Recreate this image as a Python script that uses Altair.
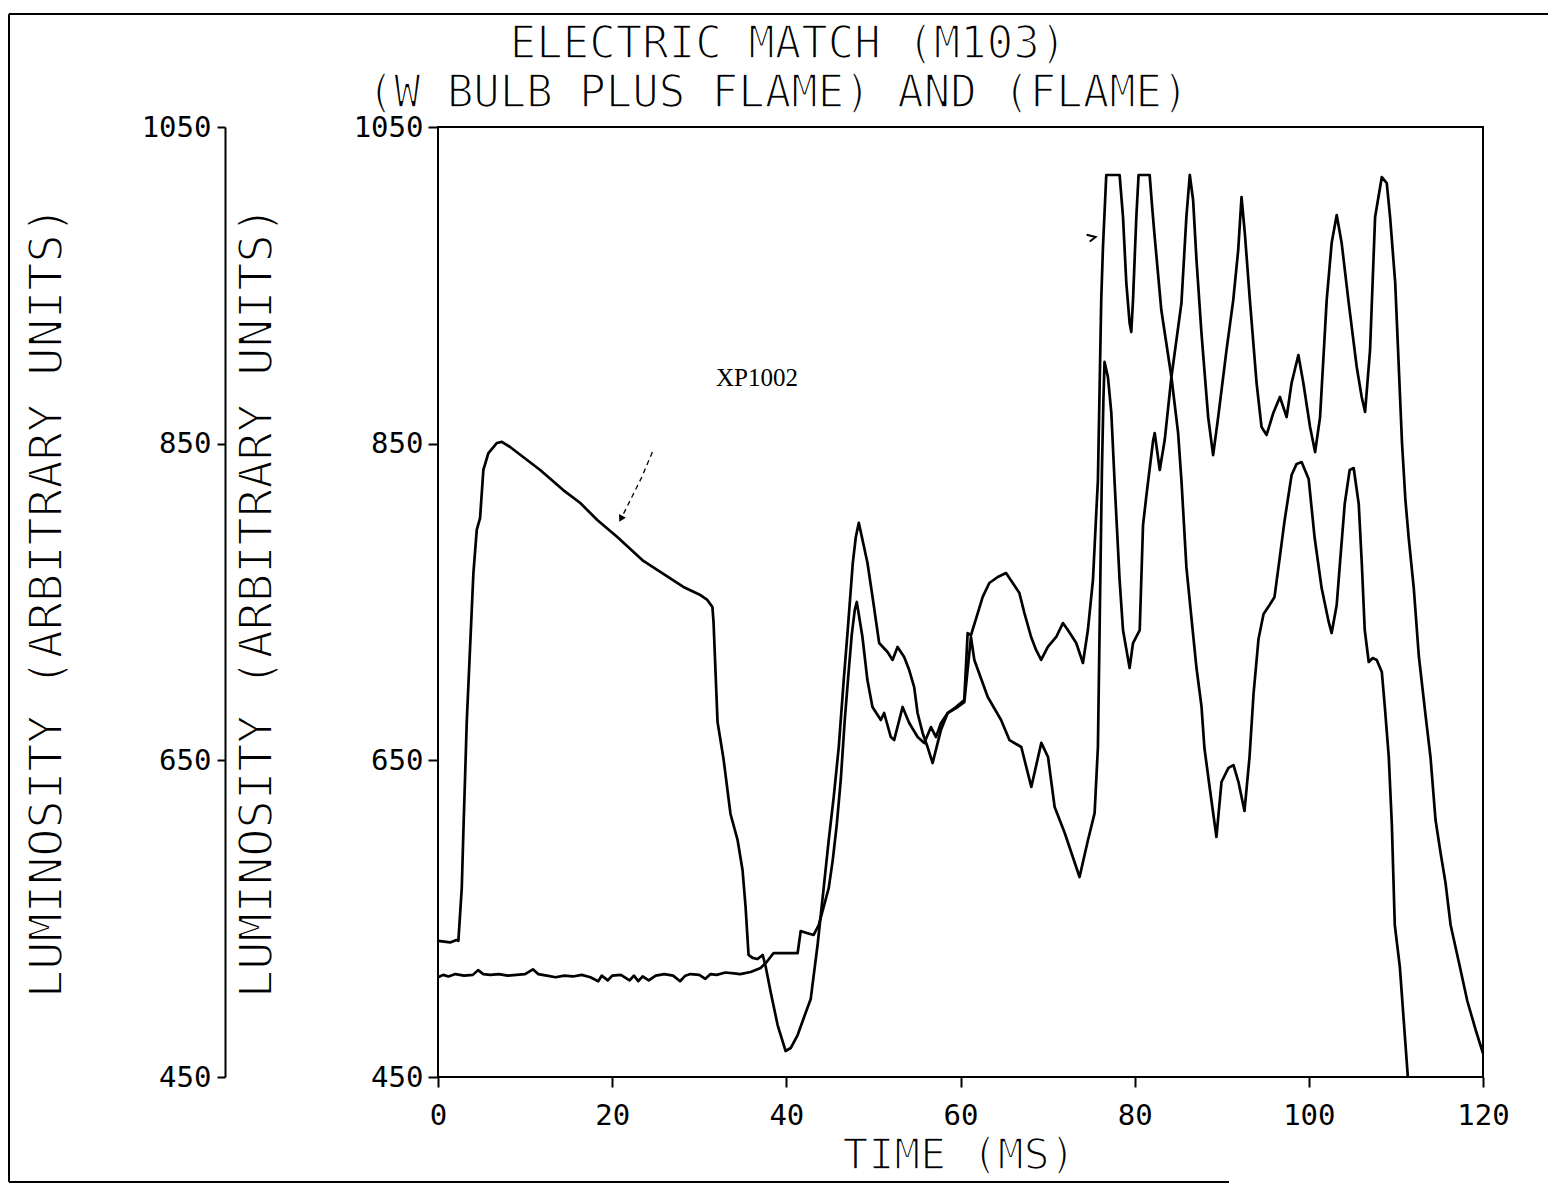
import altair as alt
import pandas as pd

# ---- data: (time ms, luminosity) ----
bulb_points = [
    (0, 536), (1.4, 535), (2.1, 536.5), (2.34, 536), (2.73, 569.4), (2.91, 604.1), (3.11, 639.5),
    (3.3, 674.2), (3.68, 720.9), (4.06, 767.7), (4.45, 795.5), (4.83, 803), (5.21, 833.4),
    (5.79, 844.1), (6.75, 850.4), (7.33, 851.1), (8.28, 847.9), (9.78, 841.6), (11.73, 833.4),
    (14.38, 820.7), (16.34, 812.5), (18.29, 801.8), (20.59, 791.1), (23.58, 775.9), (25.88, 767.7),
    (28.18, 759.5), (30.13, 754.4), (30.93, 751.3), (31.51, 746.8), (31.64, 737.4), (32.1, 674.2),
    (32.79, 650.8), (33.59, 616.1), (34.4, 599.7), (34.97, 580.7), (35.32, 557.4), (35.66, 527.1),
    (36.12, 525.2), (36.7, 524.5), (37.28, 527.1), (37.62, 520), (38.2, 503.7), (39.0, 482.8),
    (39.92, 466.4), (40.5, 468.3), (41.3, 476.5), (42.0, 487.3), (42.8, 499.3), (43.6, 534),
    (44.29, 569.4), (44.87, 599.7), (45.44, 626.8), (46.02, 658.4), (46.59, 700.7), (47.05, 732.3),
    (47.63, 774.6), (47.98, 791.1), (48.32, 800), (49.32, 774.6), (49.9, 753.2), (50.66, 724.1),
    (51.62, 718.4), (52.2, 713.4), (52.77, 721.6), (53.53, 715.3), (54.11, 707), (54.68, 696.3),
    (55.07, 679.9), (55.65, 667.3), (56.22, 658.4), (56.8, 648.3), (57.37, 660.9), (57.75, 669.1),
    (58.53, 679.9), (59.48, 683.7), (60.43, 688.1), (60.82, 730.4), (61.2, 729), (61.98, 743),
    (62.55, 753.2), (63.31, 762), (64.28, 765.8), (65.23, 768.3), (66.0, 762), (66.76, 755.7),
    (67.34, 743), (68.11, 727.9), (68.68, 719.7), (69.26, 713.4), (70.03, 721.6), (70.99, 727.9),
    (71.76, 736.7), (72.33, 732.3), (73.29, 724.1), (74.06, 711.5), (74.63, 732.3), (75.21, 763.9),
    (75.59, 806.2), (75.78, 827), (76.16, 940.7), (76.36, 974.2), (76.74, 1019.7), (78.27, 1019.7),
    (78.66, 993.2), (79.04, 951.5), (79.42, 926.2), (79.61, 920.5), (79.81, 940.7), (80.19, 993.2),
    (80.45, 1019.7), (81.72, 1019.7), (82.0, 1000), (82.26, 983), (83.06, 934.4), (84.22, 892.1),
    (84.99, 856.7), (85.37, 827), (85.94, 772), (86.52, 739.9), (87.1, 708.3), (87.67, 684.3),
    (88.01, 657.8), (88.59, 633.8), (89.39, 601.6), (89.97, 636.3), (90.77, 645.2), (91.35, 647),
    (91.92, 636.3), (92.61, 618), (93.19, 652.1), (93.65, 691.9), (94.22, 726.6), (94.8, 742.4),
    (95.49, 748.1), (96.06, 753.2), (96.64, 777.2), (97.21, 801.2), (98.02, 830.2), (98.6, 837.2),
    (99.17, 838.4), (99.98, 827.7), (100.67, 790.4), (101.47, 758.8), (102.28, 737.4), (102.62, 730.4),
    (103.2, 748.1), (103.54, 772), (104.12, 811.9), (104.69, 833.4), (105.15, 834.6), (105.73, 811.9),
    (106.08, 774.6), (106.42, 732.3), (106.88, 712.1), (107.34, 714.6), (107.8, 713.4), (108.38, 705.8),
    (108.72, 684.3), (109.18, 652.1), (109.53, 609.8), (109.87, 546), (110.45, 519.5), (111.37, 450),
]

flame_points = [
    (0, 513), (0.6, 514.5), (1.2, 513.5), (2.0, 515), (3.0, 514), (4.0, 514.5), (4.6, 517.5),
    (5.2, 515), (6.0, 514.5), (7.0, 515), (8.0, 514), (9.0, 514.5), (10.0, 515), (10.9, 518),
    (11.5, 515), (12.5, 514), (13.5, 513), (14.5, 514), (15.5, 513.5), (16.5, 514.5), (17.5, 513),
    (18.4, 510.5), (18.8, 514), (19.5, 511), (20.0, 514), (21.0, 514.5), (22.0, 511), (22.5, 514),
    (23.0, 510.5), (23.5, 513.5), (24.2, 511), (25.0, 514), (26.0, 515), (27.0, 514), (27.8, 510.5),
    (28.4, 514), (29.0, 515), (30.0, 514.5), (30.7, 512), (31.3, 515), (32.0, 514.5), (33.0, 516),
    (34.0, 515.5), (34.7, 515), (35.9, 516.3), (37.05, 518.8), (37.74, 522.6), (38.54, 528.3),
    (39.92, 528.3), (41.3, 528.3), (41.65, 542.2), (42.34, 541), (43.14, 539.7), (43.72, 546),
    (44.29, 557.4), (44.87, 569.4), (45.33, 587), (45.79, 609.2), (46.25, 637.6), (46.71, 675.5),
    (47.17, 707), (47.51, 729.2), (47.86, 745), (48.09, 750), (48.74, 727.9), (49.31, 700.7),
    (49.89, 683.7), (50.85, 675.5), (51.23, 679.9), (52.0, 664.7), (52.38, 662.8), (53.35, 683.7),
    (54.11, 673.6), (55.08, 664.7), (55.84, 660.9), (56.61, 671), (57.19, 664.7), (57.76, 673.6),
    (58.53, 679.9), (59.68, 683.7), (60.44, 686.8), (61.2, 727.9), (61.59, 713.4), (63.13, 690),
    (64.66, 675.5), (65.62, 662.8), (66.98, 658.4), (68.13, 633.2), (69.28, 661), (70.05, 652.1),
    (70.81, 620.5), (71.97, 604.1), (73.67, 576.3), (74.64, 599.7), (75.4, 616.7), (75.78, 658.4),
    (76.02, 751), (76.24, 833.4), (76.41, 877.6), (76.54, 901.6), (76.93, 892.1), (77.32, 869.4),
    (77.7, 825.2), (78.27, 763.9), (78.66, 732.3), (79.42, 708.3), (79.81, 724.1), (80.58, 732.3),
    (80.96, 798.6), (81.34, 816.9), (82.11, 851.7), (82.3, 856.7), (82.88, 833.4), (83.45, 852.3),
    (84.22, 892.1), (85.37, 938.8), (85.94, 993.2), (86.33, 1019.7), (86.71, 1003.9), (87.1, 966),
    (87.67, 919.9), (88.44, 866.8), (89.01, 842.8), (89.59, 866.8), (90.55, 909.2), (91.32, 940.7),
    (91.89, 972.3), (92.27, 1005.8), (92.65, 983), (93.23, 940.7), (94.0, 888.3), (94.57, 860.5),
    (95.15, 855.5), (95.92, 869.4), (96.68, 879.5), (97.45, 866.8), (98.02, 888.3), (98.8, 906),
    (99.37, 888.3), (100.14, 860.5), (100.72, 844.7), (101.29, 866.8), (102.05, 940.7), (102.62, 976.7),
    (103.2, 994.4), (103.77, 976.7), (104.54, 940.7), (105.5, 898.4), (106.07, 879.5), (106.46, 870),
    (107.03, 909.2), (107.61, 993.2), (108.38, 1018.4), (108.95, 1014.6), (109.33, 993.2),
    (109.92, 951.5), (110.7, 850.4), (111.09, 814.4), (111.47, 790.4), (112.05, 758.8),
    (112.63, 715.9), (113.4, 678.6), (113.97, 652.1), (114.55, 612.3), (115.13, 591.5),
    (115.7, 572.5), (116.28, 546), (117.25, 522), (118.2, 498), (119.16, 479.7), (120, 465),
]

arrow_points = [(24.62, 844.7), (23.35, 828.3), (22.09, 814.4), (21.17, 804.3)]
arrow_tip = (21.0, 802.5)
marker_pt = (75.0, 980.5)

x_ticks = [0, 20, 40, 60, 80, 100, 120]
y_ticks = [450, 650, 850, 1050]

title_lines = ["ELECTRIC MATCH (M103)", "(W BULB PLUS FLAME) AND (FLAME)"]
x_title = "TIME (MS)"
y_title = "LUMINOSITY (ARBITRARY UNITS)"
note_text = "XP1002"

# ---- build tables ----
rows = []
for name, pts in (("bulb", bulb_points), ("flame", flame_points)):
    for i, (t, v) in enumerate(pts):
        rows.append({"series": name, "t": t, "v": v, "i": i})
df = pd.DataFrame(rows)
arrow_df = pd.DataFrame([{"t": t, "v": v, "i": i} for i, (t, v) in enumerate(arrow_points)])
tip_df = pd.DataFrame([{"t": arrow_tip[0], "v": arrow_tip[1]}])
mark_df = pd.DataFrame([{"t": marker_pt[0], "v": marker_pt[1]}])
dummy = pd.DataFrame({"a": [0]})

W, H = 1045, 950
MONO = "DejaVu Sans Mono"

xscale = alt.Scale(domain=[0, 120], nice=False, zero=False)
yscale = alt.Scale(domain=[450, 1050], nice=False, zero=False)

axis_common = dict(labelFont=MONO, labelFontSize=29, labelColor="black", format="d",
                   tickColor="black", tickWidth=2, grid=False, labelFlush=False, title=None)

lines = alt.Chart(df).mark_line(color="black", strokeWidth=2.7, strokeJoin="round").encode(
    x=alt.X("t:Q", scale=xscale,
            axis=alt.Axis(values=x_ticks, orient="bottom", domain=False, tickSize=10,
                          labelPadding=14, **axis_common)),
    y=alt.Y("v:Q", scale=yscale,
            axis=alt.Axis(values=y_ticks, orient="left", domain=False, tickSize=10,
                          labelPadding=5, **axis_common)),
    detail="series:N",
    order="i:Q",
)

axis2 = alt.Chart(pd.DataFrame({"v": y_ticks})).mark_point(opacity=0).encode(
    y=alt.Y("v:Q", scale=yscale,
            axis=alt.Axis(values=y_ticks, orient="left", offset=213, domain=True,
                          domainColor="black", domainWidth=2, tickSize=8, labelPadding=6,
                          **axis_common)),
)

arrow = alt.Chart(arrow_df).mark_line(color="black", strokeWidth=1.3, strokeDash=[5, 4]).encode(
    x=alt.X("t:Q", scale=xscale), y=alt.Y("v:Q", scale=yscale, axis=None), order="i:Q")
tip = alt.Chart(tip_df).mark_point(shape="triangle-down", filled=True, color="black",
                                   size=60, angle=28, opacity=1).encode(
    x=alt.X("t:Q", scale=xscale), y=alt.Y("v:Q", scale=yscale, axis=None))
marker = alt.Chart(mark_df).mark_point(shape="M -1 -0.5 L 1 0 L -0.3 1", filled=False,
                                       color="black", strokeWidth=2, size=80, opacity=1).encode(
    x=alt.X("t:Q", scale=xscale), y=alt.Y("v:Q", scale=yscale, axis=None))


def rule(x1, y1, x2, y2, w=2):
    return alt.Chart(dummy).mark_rule(color="black", strokeWidth=w).encode(
        x=alt.value(x1), x2=alt.value(x2), y=alt.value(y1), y2=alt.value(y2))


def label(text, x, y, size, angle=0, font=MONO, baseline="alphabetic", thin=1.7):
    kw = dict(text=text, font=font, fontSize=size, align="center", baseline=baseline,
              color="black", fill="black")
    if angle:
        kw["angle"] = angle
    if thin:
        kw["stroke"] = "white"
        kw["strokeWidth"] = thin
    return alt.Chart(dummy).mark_text(**kw).encode(x=alt.value(x), y=alt.value(y))


frame = [
    rule(-429, -113, 1110, -113),
    rule(-429, -113, -429, 1055),
    rule(-429, 1055, 791, 1055),
]

texts = [
    label(title_lines[0], 350, -69, 44),
    label(title_lines[1], 340, -20, 44),
    label(x_title, 521, 1042, 43),
    label(y_title, -390, 475, 47, angle=270, baseline="middle"),
    label(y_title, -180, 475, 47, angle=270, baseline="middle"),
    label(note_text, 319, 259, 25, font="Liberation Serif", thin=0),
]

chart = alt.layer(lines, axis2, arrow, tip, marker, *frame, *texts).resolve_scale(
    y="independent"
).properties(
    width=W, height=H,
    padding={"left": 0, "top": 5, "right": 0, "bottom": 0},
    background="white",
).configure_view(stroke="black", strokeWidth=2)

chart.save("out.html", embed_options={"renderer": "svg", "actions": False})
